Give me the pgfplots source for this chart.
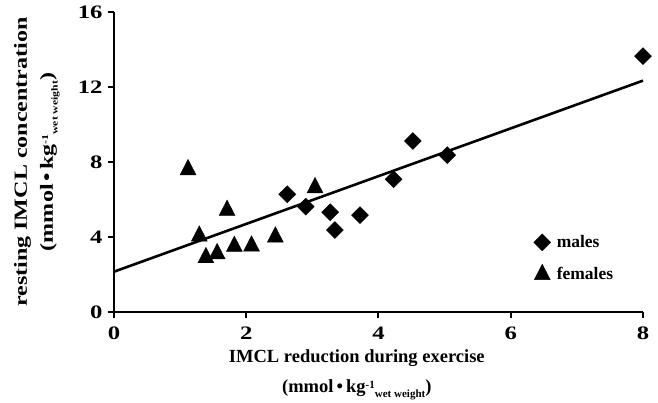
\documentclass[border=0pt]{standalone}
\usepackage{pgfplots}
\pgfplotsset{compat=1.18}
\usepackage{fontspec}
\setmainfont{Liberation Serif}
\newfontfamily\widefont[FakeStretch=1.3]{Liberation Serif}

\newcommand{\unitlabel}{(mmol\,\textbullet\,kg\raisebox{0.55ex}{\fontsize{11}{11}\selectfont -1}\raisebox{-0.55ex}{\fontsize{11}{11}\selectfont wet weight})}
\newcommand{\unitlabelw}{(mmol\,\textbullet\,kg\raisebox{0.55ex}{\fontsize{9}{9}\selectfont -1}\raisebox{-0.55ex}{\fontsize{9}{9}\selectfont wet weight})}

\begin{document}
\begin{tikzpicture}
\begin{axis}[
    name=ax,
    scale only axis,
    width=529pt, height=300pt,
    xmin=0, xmax=8, ymin=0, ymax=16,
    axis lines=left,
    axis line style={line width=2.2pt, -},
    xtick={0,2,4,6,8}, ytick={0,4,8,12,16},
    tick align=outside,
    major tick length=6pt,
    tick style={line width=2pt, black},
    /pgf/number format/assume math mode=true,
    tick label style={font=\widefont\bfseries\fontsize{19}{19}\selectfont},
    xticklabel style={yshift=-5pt},
    yticklabel style={xshift=-2pt},
    xlabel={IMCL reduction during exercise\\\unitlabel},
    xlabel style={at={(axis description cs:0.459,0)}, anchor=center, yshift=-63pt,
        font=\bfseries\fontsize{18.5}{30}\selectfont, align=center},
    ylabel={resting IMCL concentration\\\unitlabelw},
    ylabel style={at={(axis description cs:-0.146,0.5)}, anchor=center,
        font=\widefont\bfseries\fontsize{18.5}{26}\selectfont, align=center},
    clip=false,
    legend style={draw=none, fill=none, at={(axis cs:6.3,4.3)}, anchor=north west,
        font=\bfseries\fontsize{17.5}{17.5}\selectfont, row sep=13pt, column sep=4pt},
    legend cell align=left,
]
% males
\addplot[only marks, mark=square*, mark size=6pt, mark options={rotate=45, fill=black}] coordinates {
    (2.62,6.28)(2.90,5.62)(3.27,5.32)(3.34,4.37)(3.72,5.17)
    (4.23,7.08)(4.52,9.12)(5.04,8.37)(8.00,13.65)
};
% females
\addplot[only marks, mark=triangle*, mark size=9.2pt, mark options={yscale=1.12, fill=black}] coordinates {
    (1.12,7.59)(1.29,4.05)(1.39,2.90)(1.56,3.11)(1.71,5.42)
    (1.82,3.50)(2.08,3.52)(2.44,4.00)(3.04,6.63)
};
% regression line
\addplot[black, line width=2.6pt, forget plot] coordinates {(0,2.15)(8,12.34)};

\legend{males, females}
\end{axis}
\pgfresetboundingbox
\useasboundingbox ([shift={(-114pt,-91pt)}]ax.south west) rectangle ++(658pt,403pt);
\end{tikzpicture}
\end{document}
